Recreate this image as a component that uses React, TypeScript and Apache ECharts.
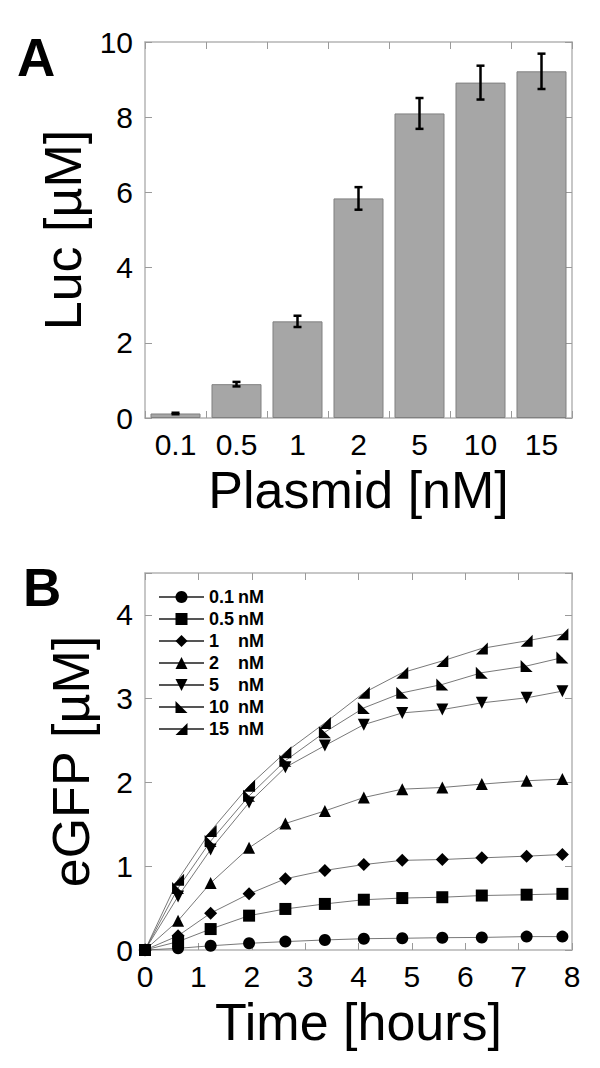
import React, { useEffect, useRef } from "react";
import * as echarts from "echarts";

// Panel A data
const plasmidCats = ["0.1", "0.5", "1", "2", "5", "10", "15"];
const lucValues = [0.12, 0.9, 2.57, 5.84, 8.1, 8.92, 9.22];
const lucErrors = [0.02, 0.06, 0.15, 0.3, 0.41, 0.45, 0.47];
const lucTicks = [0, 2, 4, 6, 8, 10];

// Panel B data
const timeHours = [0, 0.62, 1.23, 1.95, 2.63, 3.37, 4.1, 4.82, 5.57, 6.31, 7.15, 7.82];
const seriesNames = ["0.1 nM", "0.5 nM", "1 nM", "2 nM", "5 nM", "10 nM", "15 nM"];
const egfp01 = [0, 0.02, 0.05, 0.08, 0.1, 0.12, 0.135, 0.14, 0.147, 0.15, 0.16, 0.16];
const egfp05 = [0, 0.1, 0.25, 0.41, 0.49, 0.55, 0.6, 0.62, 0.63, 0.65, 0.66, 0.67];
const egfp1 = [0, 0.17, 0.44, 0.67, 0.85, 0.95, 1.02, 1.07, 1.08, 1.1, 1.12, 1.14];
const egfp2 = [0, 0.35, 0.8, 1.22, 1.51, 1.66, 1.82, 1.92, 1.94, 1.98, 2.02, 2.04];
const egfp5 = [0, 0.64, 1.2, 1.76, 2.18, 2.44, 2.69, 2.83, 2.87, 2.95, 3.01, 3.09];
const egfp10 = [0, 0.74, 1.3, 1.84, 2.26, 2.6, 2.89, 3.07, 3.17, 3.31, 3.39, 3.49];
const egfp15 = [0, 0.84, 1.42, 1.96, 2.36, 2.71, 3.07, 3.31, 3.45, 3.6, 3.69, 3.77];
const egfpSeries = [egfp01, egfp05, egfp1, egfp2, egfp5, egfp10, egfp15];
const markerSymbols = [
  "circle",
  "rect",
  "diamond",
  "triangle",
  "path://M0,0L10,0L5,10Z",
  "path://M0,0L0,10L10,10Z",
  "path://M10,0L10,10L0,10Z",
];

const FONT = "Liberation Sans, Arial, sans-serif";
const AXIS_COLOR = "#b4b4b4";
const TICK_COLOR = "#9a9a9a";

function frameAxis(extra: any) {
  return {
    axisLine: { show: true, onZero: false, lineStyle: { color: AXIS_COLOR, width: 1.5 } },
    axisTick: { show: true, inside: true, length: 7, lineStyle: { color: TICK_COLOR, width: 1 } },
    splitLine: { show: false },
    ...extra,
  };
}

export default function App() {
  const ref = useRef<HTMLDivElement>(null);
  useEffect(() => {
    if (!ref.current) return;
    const chart = echarts.init(ref.current, null, { renderer: "svg" });
    const labelStyle = { fontFamily: FONT, fontSize: 30, color: "#000" };
    const nameStyle = { fontFamily: FONT, fontSize: 52, color: "#000" };

    const lineSeries = seriesNames.map((name, si) => ({
      name,
      type: "line",
      xAxisIndex: 2,
      yAxisIndex: 2,
      data: timeHours.map((t, i) => [t, egfpSeries[si][i]]),
      symbol: markerSymbols[si],
      symbolSize: si === 2 ? 13 : 12,
      showSymbol: true,
      lineStyle: { color: "#555", width: 0.8 },
      itemStyle: { color: "#000" },
      z: 3,
    }));

    const option: any = {
      animation: false,
      backgroundColor: "#fff",
      grid: [
        { left: 145, top: 42, width: 427, height: 376 },
        { left: 145, top: 573, width: 427, height: 377 },
      ],
      xAxis: [
        frameAxis({
          type: "category",
          gridIndex: 0,
          data: plasmidCats,
          position: "bottom",
          axisLabel: { ...labelStyle, margin: 11, interval: 0 },
          name: "Plasmid [nM]",
          nameLocation: "middle",
          nameGap: 46,
          nameTextStyle: nameStyle,
        }),
        frameAxis({
          type: "category",
          gridIndex: 0,
          data: plasmidCats,
          position: "top",
          axisLabel: { show: false },
        }),
        frameAxis({
          type: "value",
          gridIndex: 1,
          min: 0,
          max: 8,
          interval: 1,
          position: "bottom",
          axisLabel: { ...labelStyle, margin: 11 },
          name: "Time [hours]",
          nameLocation: "middle",
          nameGap: 46,
          nameTextStyle: nameStyle,
        }),
        frameAxis({
          type: "value",
          gridIndex: 1,
          min: 0,
          max: 8,
          interval: 1,
          position: "top",
          axisLabel: { show: false },
        }),
      ],
      yAxis: [
        frameAxis({
          type: "value",
          gridIndex: 0,
          min: lucTicks[0],
          max: lucTicks[lucTicks.length - 1],
          interval: 2,
          position: "left",
          axisLabel: { ...labelStyle, margin: 12 },
          name: "Luc [µM]",
          nameLocation: "middle",
          nameGap: 48,
          nameTextStyle: nameStyle,
        }),
        frameAxis({
          type: "value",
          gridIndex: 0,
          min: 0,
          max: 10,
          interval: 2,
          position: "right",
          axisLabel: { show: false },
        }),
        frameAxis({
          type: "value",
          gridIndex: 1,
          min: 0,
          max: 4.5,
          interval: 1,
          position: "left",
          axisLabel: {
            ...labelStyle,
            margin: 12,
            formatter: (v: number) => (Number.isInteger(v) ? String(v) : ""),
          },
          name: "eGFP [µM]",
          nameLocation: "middle",
          nameGap: 48,
          nameTextStyle: nameStyle,
        }),
        frameAxis({
          type: "value",
          gridIndex: 1,
          min: 0,
          max: 4.5,
          interval: 1,
          position: "right",
          axisLabel: { show: false },
        }),
      ],
      legend: {
        data: seriesNames,
        orient: "vertical",
        left: 158,
        top: 588,
        padding: 0,
        itemWidth: 45,
        itemHeight: 15,
        itemGap: 4,
        textStyle: {
          fontFamily: FONT,
          fontSize: 18,
          fontWeight: "bold",
          color: "#000",
          rich: {
            a: { fontFamily: FONT, fontSize: 18, fontWeight: "bold", width: 29, color: "#000" },
            b: { fontFamily: FONT, fontSize: 18, fontWeight: "bold", color: "#000" },
          },
        },
        formatter: (name: string) => {
          const [num, unit] = name.split(" ");
          return `{a|${num}}{b|${unit}}`;
        },
      },
      graphic: [
        {
          type: "text",
          left: 17,
          top: 31,
          style: { text: "A", fontFamily: FONT, fontSize: 53, fontWeight: "bold", fill: "#000" },
        },
        {
          type: "text",
          left: 23,
          top: 561,
          style: { text: "B", fontFamily: FONT, fontSize: 53, fontWeight: "bold", fill: "#000" },
        },
      ],
      series: [
        {
          name: "Luc",
          type: "bar",
          xAxisIndex: 0,
          yAxisIndex: 0,
          data: lucValues,
          barCategoryGap: "18%",
          itemStyle: { color: "#a6a6a6", borderColor: "#808080", borderWidth: 1 },
          z: 2,
        },
        {
          name: "Luc error",
          type: "custom",
          xAxisIndex: 0,
          yAxisIndex: 0,
          data: lucValues.map((v, i) => [i, v - lucErrors[i], v + lucErrors[i]]),
          encode: { x: 0, y: [1, 2] },
          z: 4,
          renderItem: (params: any, api: any) => {
            const x = api.value(0);
            const lo = api.coord([x, api.value(1)]);
            const hi = api.coord([x, api.value(2)]);
            const hw = 4;
            const st = { stroke: "#000", lineWidth: 2.5 };
            return {
              type: "group",
              children: [
                { type: "line", shape: { x1: lo[0], y1: lo[1], x2: hi[0], y2: hi[1] }, style: st },
                { type: "line", shape: { x1: lo[0] - hw, y1: lo[1], x2: lo[0] + hw, y2: lo[1] }, style: st },
                { type: "line", shape: { x1: hi[0] - hw, y1: hi[1], x2: hi[0] + hw, y2: hi[1] }, style: st },
              ],
            };
          },
        },
        ...lineSeries,
      ],
    };
    chart.setOption(option);
    return () => chart.dispose();
  }, []);
  return (
    <div
      ref={ref}
      style={{ position: "absolute", left: 0, top: 0, width: 600, height: 1068, background: "#fff" }}
    />
  );
}
